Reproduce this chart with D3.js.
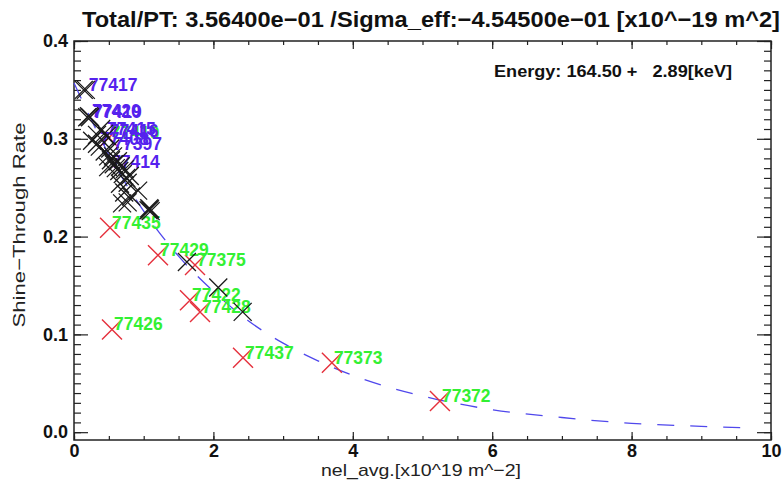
<!DOCTYPE html>
<html>
<head>
<meta charset="utf-8">
<script src="https://cdn.jsdelivr.net/npm/d3@7"></script>
<style>
  body { margin: 0; background: #fff; }
  svg { display: block; font-family: "Liberation Sans", Arial, sans-serif; }
</style>
</head>
<body>
<div id="chart"></div>
<script>
'use strict'

// ---- data ----
const xTicks = [0, 2, 4, 6, 8, 10]
const yTicks = [0.0, 0.1, 0.2, 0.3, 0.4]

// fitted curve (dashed), sampled from the plot
const curveX = [0, 0.5, 1, 1.5, 2, 2.5, 3, 3.5, 4, 5, 6, 7, 8, 9, 9.6]
const curveY = [0.357, 0.284, 0.226, 0.180, 0.144, 0.114, 0.091, 0.073, 0.058, 0.037, 0.023, 0.015, 0.009, 0.006, 0.0045]

// black crosses (no label)
const blackX = [0.14, 0.19, 0.26, 0.33, 0.39, 0.37, 0.44, 0.49, 0.53, 0.56, 0.57, 0.60, 0.63, 0.65, 0.67, 0.70, 0.73, 0.75, 0.77, 0.80,
                0.66, 0.72, 0.82, 0.69, 0.77, 0.92, 1.08, 1.10, 1.09, 1.07, 1.62, 2.07, 2.42]
const blackY = [0.350, 0.322, 0.298, 0.304, 0.310, 0.292, 0.287, 0.282, 0.278, 0.282, 0.274, 0.270, 0.277, 0.267, 0.272, 0.264, 0.269, 0.260, 0.255, 0.262,
                0.254, 0.245, 0.241, 0.234, 0.235, 0.247, 0.229, 0.226, 0.228, 0.227, 0.174, 0.148, 0.123]

// black crosses with purple shot labels
const purpleLabels = ['77417', '77420', '77419', '77415', '77416', '77408', '77397', '77414']
const purpleX = [0.17, 0.215, 0.23, 0.43, 0.47, 0.33, 0.52, 0.49]
const purpleY = [0.350, 0.323, 0.322, 0.305, 0.303, 0.295, 0.290, 0.271]

// red crosses with green shot labels
const redLabels = ['77410', '77435', '77429', '77375', '77422', '77428', '77426', '77437', '77373', '77372']
const redX = [0.50, 0.517, 1.205, 1.736, 1.664, 1.808, 0.545, 2.425, 3.70, 5.25]
const redY = [0.301, 0.209, 0.181, 0.171, 0.135, 0.123, 0.105, 0.076, 0.071, 0.032]

const titleText = 'Total/PT: 3.56400e\u221201 /Sigma_eff:\u22124.54500e\u221201 [x10^\u221219 m^2]'
const energyText = 'Energy: 164.50 +   2.89[keV]'

// ---- svg setup ----
const svgWidth = 783, svgHeight = 480
const margin = {left: 74, right: 12, top: 41, bottom: 40}
const width = svgWidth - margin.left - margin.right
const height = svgHeight - margin.top - margin.bottom

const svg = d3.select('#chart').append('svg')
    .attr('width', svgWidth)
    .attr('height', svgHeight)

const g = svg.append('g')
    .attr('transform', `translate(${margin.left},${margin.top})`)

// ---- scales ----
const x = d3.scaleLinear().domain([0, 10]).range([0, width])
const y = d3.scaleLinear().domain([-0.008, 0.4]).range([height, 0])

const xMinor = d3.range(0, 10.01, 0.5)
const yMinor = d3.range(0, 0.4001, 0.01)

// ---- axes (ticks inward on all four sides) ----
function styleAxis(sel) {
    sel.select('.domain').remove()
    sel.selectAll('line').attr('stroke', '#222').attr('stroke-width', 1.2)
}

g.append('g').attr('transform', `translate(0,${height})`)
    .call(d3.axisBottom(x).tickValues(xMinor).tickSizeInner(-4).tickFormat(''))
    .call(styleAxis)
g.append('g').attr('transform', `translate(0,${height})`)
    .call(d3.axisBottom(x).tickValues(xTicks).tickSizeInner(-8).tickPadding(4).tickFormat(d3.format('d')))
    .call(styleAxis)
    .selectAll('text').attr('font-size', 18).attr('font-weight', 'bold').attr('fill', '#111').attr('font-family', null)
g.append('g')
    .call(d3.axisTop(x).tickValues(xMinor).tickSizeInner(-4).tickFormat(''))
    .call(styleAxis)
g.append('g')
    .call(d3.axisTop(x).tickValues(xTicks).tickSizeInner(-8).tickFormat(''))
    .call(styleAxis)

g.append('g')
    .call(d3.axisLeft(y).tickValues(yMinor).tickSizeInner(-7).tickFormat(''))
    .call(styleAxis)
g.append('g')
    .call(d3.axisLeft(y).tickValues(yTicks).tickSizeInner(-14).tickPadding(6).tickFormat(d3.format('.1f')))
    .call(styleAxis)
    .selectAll('text').attr('font-size', 18).attr('font-weight', 'bold').attr('fill', '#111').attr('font-family', null)
g.append('g').attr('transform', `translate(${width},0)`)
    .call(d3.axisRight(y).tickValues(yMinor).tickSizeInner(-7).tickFormat(''))
    .call(styleAxis)
g.append('g').attr('transform', `translate(${width},0)`)
    .call(d3.axisRight(y).tickValues(yTicks).tickSizeInner(-14).tickFormat(''))
    .call(styleAxis)

g.append('rect')
    .attr('width', width).attr('height', height)
    .attr('fill', 'none').attr('stroke', '#222').attr('stroke-width', 1.5)

// ---- fitted curve ----
const line = d3.line()
    .x((d, i) => x(curveX[i]))
    .y((d, i) => y(curveY[i]))
    .curve(d3.curveMonotoneX)

g.append('path')
    .datum(curveX)
    .attr('d', line)
    .attr('fill', 'none')
    .attr('stroke', '#5048ec')
    .attr('stroke-width', 1.3)
    .attr('stroke-dasharray', '17,16')

// ---- crosses ----
function cross(s) {
    return `M${-s},${-s}L${s},${s}M${-s},${s}L${s},${-s}`
}

const marks = g.append('g')

marks.selectAll('.red')
    .data(redLabels)
    .join('path')
    .attr('class', 'red')
    .attr('transform', (d, i) => `translate(${x(redX[i])},${y(redY[i])})`)
    .attr('d', cross(10))
    .attr('stroke', '#e5303c')
    .attr('stroke-width', 1.4)
    .attr('fill', 'none')

marks.selectAll('.green-label')
    .data(redLabels)
    .join('text')
    .attr('class', 'green-label')
    .attr('x', (d, i) => x(redX[i]) + 2)
    .attr('y', (d, i) => y(redY[i]) + 1)
    .attr('font-size', 17.5)
    .attr('font-weight', 'bold')
    .attr('fill', '#33f033')
    .text(d => d)

marks.selectAll('.purple-label')
    .data(purpleLabels)
    .join('text')
    .attr('class', 'purple-label')
    .attr('x', (d, i) => x(purpleX[i]) + 3)
    .attr('y', (d, i) => y(purpleY[i]) + 1)
    .attr('font-size', 17.5)
    .attr('font-weight', 'bold')
    .attr('fill', '#5522ee')
    .text(d => d)

marks.selectAll('.black')
    .data(blackX.concat(purpleX))
    .join('path')
    .attr('class', 'black')
    .attr('transform', (d, i) => {
        const yy = i < blackX.length ? blackY[i] : purpleY[i - blackX.length]
        return `translate(${x(d)},${y(yy)})`
    })
    .attr('d', cross(9))
    .attr('stroke', '#1a1a1a')
    .attr('stroke-width', 1.3)
    .attr('fill', 'none')

// ---- texts ----
svg.append('text')
    .attr('x', 82).attr('y', 27)
    .attr('font-size', 22).attr('font-weight', 'bold').attr('fill', '#111')
    .attr('textLength', 698).attr('lengthAdjust', 'spacingAndGlyphs')
    .text(titleText)

svg.append('text')
    .attr('x', 494).attr('y', 77)
    .attr('font-size', 16).attr('font-weight', 'bold').attr('fill', '#111')
    .attr('textLength', 238).attr('lengthAdjust', 'spacingAndGlyphs')
    .style('white-space', 'pre')
    .text(energyText)

svg.append('text')
    .attr('x', 421).attr('y', 476)
    .attr('text-anchor', 'middle')
    .attr('font-size', 17).attr('fill', '#222')
    .attr('textLength', 200).attr('lengthAdjust', 'spacingAndGlyphs')
    .text('nel_avg.[x10^19 m^\u22122]')

svg.append('text')
    .attr('transform', 'translate(25,225) rotate(-90)')
    .attr('text-anchor', 'middle')
    .attr('font-size', 17).attr('fill', '#222')
    .attr('textLength', 205).attr('lengthAdjust', 'spacingAndGlyphs')
    .text('Shine\u2212Through Rate')
</script>
</body>
</html>
